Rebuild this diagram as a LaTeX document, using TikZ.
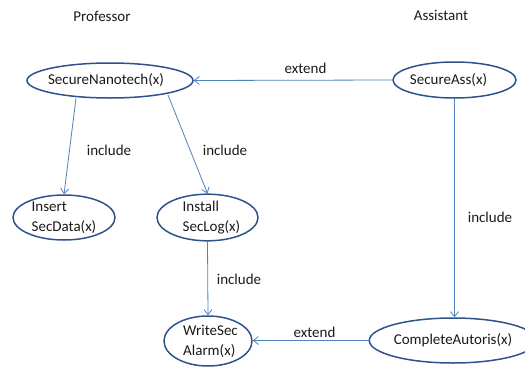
\documentclass[tikz,border=0pt]{standalone}
\usepackage{fontspec}
\setmainfont{Carlito}
\usetikzlibrary{arrows.meta,shapes.geometric}
\definecolor{ellblue}{HTML}{2F528F}
\definecolor{arrblue}{HTML}{4F81BD}
\definecolor{txt}{HTML}{1A1A1A}
\begin{document}
\begin{tikzpicture}[x=1pt,y=-1pt,
  uc/.style={draw=ellblue,line width=1.5pt,ellipse,fill=white,inner sep=0pt,text=txt,font=\fontsize{15}{20}\selectfont},
  conn/.style={draw=arrblue,line width=0.8pt,-{Straight Barb[length=5pt,width=8pt,line width=0.8pt]}},
  lbl/.style={text=txt,font=\fontsize{15}{20}\selectfont}]
\useasboundingbox (0,0) rectangle (525,367);
\node[lbl] (prof) at (102,16) {Professor};
\node[lbl] (asst) at (441,15) {Assistant};
\node[uc,minimum width=166pt,minimum height=35pt] (sn) at (110,80.5) {\hspace*{-8pt}SecureNanotech(x)};
\node[uc,minimum width=123pt,minimum height=36pt] (sa) at (454.5,80) {\hspace*{-12pt}SecureAss(x)};
\node[uc,minimum width=102pt,minimum height=45pt,align=left] (ins) at (64,217.5) {Insert\\SecData(x)};
\node[uc,minimum width=101pt,minimum height=45pt,align=left] (inst) at (207.5,217.5) {\hspace*{8pt}Install\\\hspace*{8pt}SecLog(x)};
\node[uc,minimum width=88pt,minimum height=50pt,align=left] (ws) at (208,341) {\hspace*{5pt}WriteSec\\\hspace*{5pt}Alarm(x)};
\node[uc,minimum width=150pt,minimum height=45pt] (ca) at (453,340.5) {CompleteAutoris(x)};
\coordinate (snA) at (76,98);
\coordinate (snB) at (168,95);
\draw[conn] (sa.west) -- (sn.east);
\draw[conn] (snA) -- (ins.north);
\draw[conn] (snB) -- (inst.north);
\draw[conn] (inst.south) -- (ws.north);
\draw[conn] (sa.south) -- (sa.south |- ca.north);
\draw[conn] (ca.west) -- (ws.east |- ca.west);
\node[lbl] (l1) at (305.5,68) {extend};
\node[lbl] (l2) at (109,150) {include};
\node[lbl] (l3) at (225,150) {include};
\node[lbl] (l4) at (239,279) {include};
\node[lbl] (l5) at (490,217) {include};
\node[lbl] (l6) at (314.5,332) {extend};
\end{tikzpicture}
\end{document}
